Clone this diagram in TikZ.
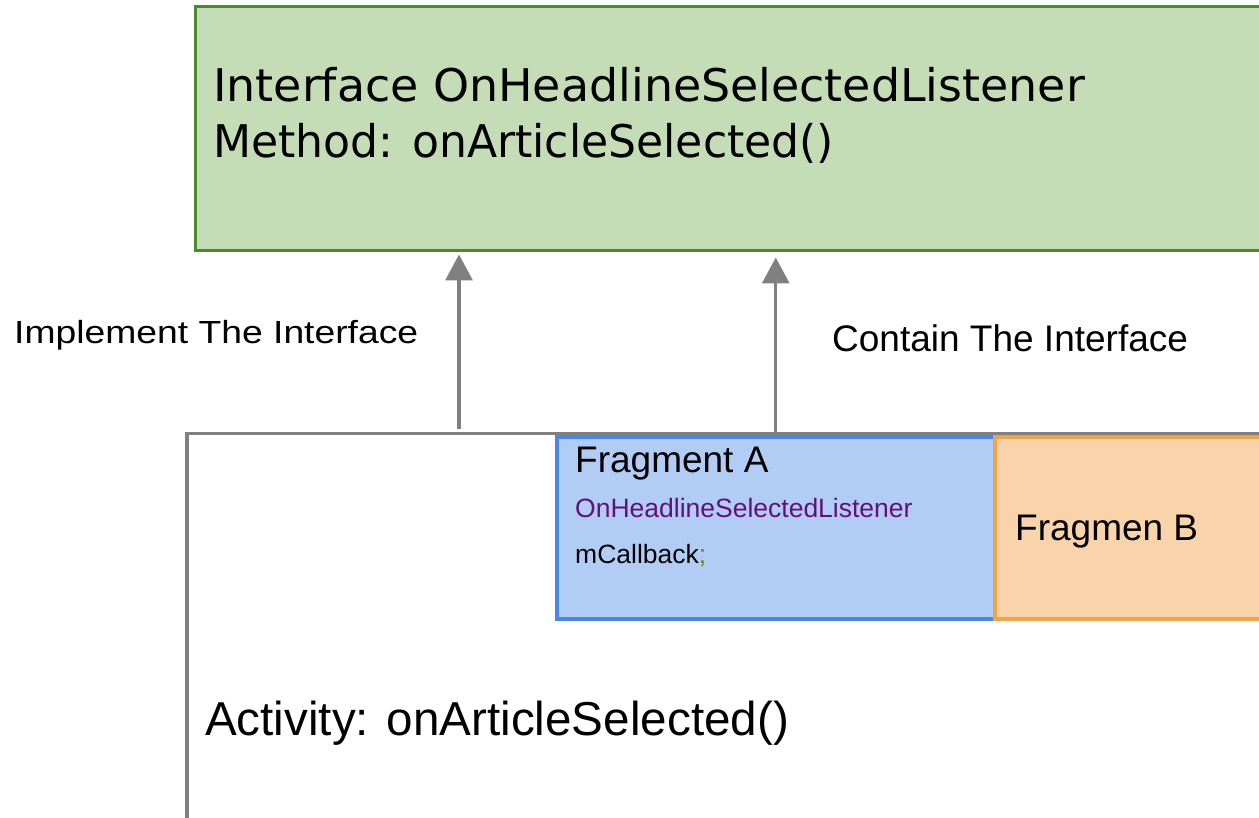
\documentclass[tikz,border=0pt]{standalone}
\usepackage{fontspec}
\setmainfont{Liberation Sans}
\newfontfamily\ifacefont{DejaVu Sans}
\usepackage{tikz}
\usetikzlibrary{calc, positioning}
\usetikzlibrary{shapes, arrows.meta}
\definecolor{ifacefill}{RGB}{196,221,182}
\definecolor{ifaceline}{RGB}{74,138,42}
\definecolor{fragAfill}{RGB}{177,205,245}
\definecolor{fragAline}{RGB}{74,134,232}
\definecolor{fragBfill}{RGB}{249,211,170}
\definecolor{fragBline}{RGB}{240,164,72}
\definecolor{fieldpurple}{RGB}{102,14,122}
\definecolor{semiolive}{RGB}{128,128,0}
\definecolor{linkgray}{RGB}{128,128,128}
\tikzset{
    auto,node distance =1.1 cm and 1.1 cm,% spacing between neighbouring nodes
}

\begin{document}
\begin{tikzpicture}
            [x=1pt, y=-1pt,
            box/.style={rectangle, inner sep=0pt, anchor=north west},
            label text/.style={inner sep=0pt, anchor=base west},
            link/.style={draw=linkgray, line width=3.3pt, -{Triangle[width=27pt,length=26pt]}}]
            \useasboundingbox (0,0) rectangle (1259,818);
            \clip (0,0) rectangle (1259,818);
            % boxes
            \node(iface) [box, draw=ifaceline, fill=ifacefill, line width=3.5pt,
                minimum width=1110pt, minimum height=244pt] at (193.5,5) {};
            \node(activity) [box, draw=linkgray, line width=3.5pt,
                minimum width=1120pt, minimum height=480pt] at (185,431.5) {};
            \node(fragA) [box, draw=fragAline, fill=fragAfill, line width=3.5pt,
                minimum width=438pt, minimum height=182pt] at (555,435) {};
            \node(fragB) [box, draw=fragBline, fill=fragBfill, line width=3.5pt,
                minimum width=320pt, minimum height=182pt] at (993,435) {};
            % texts
            \node(ifaceName) [label text, font=\ifacefont\fontsize{45}{54}\selectfont] at (213,102)
                {\scalebox{1.02}[1]{Interface OnHeadlineSelectedListener}};
            \node(ifaceMethod) [label text, font=\ifacefont\fontsize{45}{54}\selectfont] at (213,158)
                {\scalebox{0.98}[1]{Method: onArticleSelected()}};
            \node(fragAName) [label text, font=\fontsize{37}{44}\selectfont] at (575,472) {Fragment A};
            \node(fragAType) [label text, font=\fontsize{26.5}{32}\selectfont, text=fieldpurple] at (575,517)
                {OnHeadlineSelectedListener};
            \node(fragAField) [label text, font=\fontsize{26.5}{32}\selectfont] at (575,563)
                {mCallback\textcolor{semiolive}{;}};
            \node(fragBName) [label text, font=\fontsize{37}{44}\selectfont] at (1015,540) {Fragmen B};
            \node(activityName) [label text, font=\fontsize{47.6}{57}\selectfont] at (205,735)
                {Activity: onArticleSelected()};
            \node(implLabel) [label text, font=\fontsize{32}{38}\selectfont] at (14,344)
                {\scalebox{1.165}[1]{Implement The Interface}};
            \node(containLabel) [label text, font=\fontsize{37}{44}\selectfont] at (832,352)
                {Contain The Interface};
            % links
            \coordinate (implStart) at ($(activity.north west)+(274,-3)$);
            \draw[link] (implStart) -- ($(implStart |- iface.south)+(0,2)$);
            \draw[link] (fragA.north) -- ($(fragA.north |- iface.south)+(0,5)$);
        \end{tikzpicture}
\end{document}
